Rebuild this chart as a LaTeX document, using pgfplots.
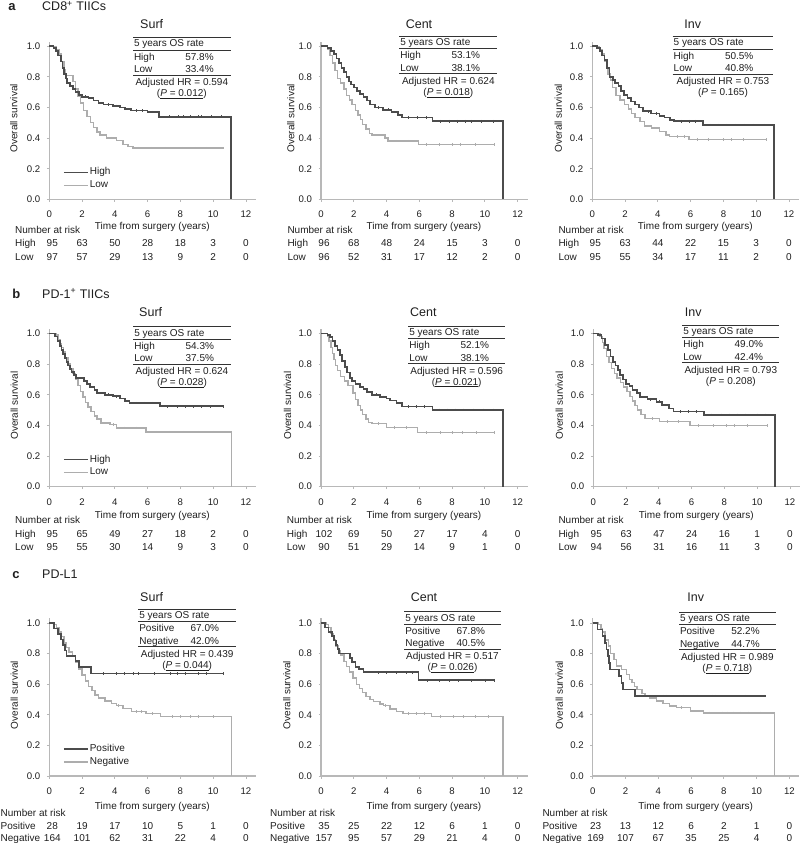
\documentclass[border=0pt]{standalone}
\usepackage{fontspec}
\setmainfont{Liberation Sans}
\usepackage{pgfplots}
\pgfplotsset{compat=1.18}
\definecolor{dk}{gray}{0.30}
\definecolor{lt}{gray}{0.68}
\definecolor{axc}{gray}{0.72}
\definecolor{tx}{gray}{0.12}
\pgfplotsset{
 km/.style={scale only axis, width=206.5pt, height=157.6pt, xmin=0, xmax=12.6, ymin=0, ymax=1.03, anchor=south west,
  axis x line=bottom, axis y line=left, axis line style={-, draw=axc, line width=1.1pt},
  xtick={0,2,4,6,8,10,12}, ytick={0,0.2,0.4,0.6,0.8,1.0},
  major tick length=2.5pt, tick align=outside, tick style={draw=axc, line width=0.8pt},
  yticklabel style={/pgf/number format/fixed, /pgf/number format/fixed zerofill, /pgf/number format/precision=1, xshift=-3pt},
  xticklabel style={anchor=base, yshift=-16pt},
  /pgf/number format/assume math mode=true,
  tick label style={font=\fontsize{9.6}{11}\selectfont, text=tx},
  clip=false},
 kmleg/.style={legend style={draw=none, fill=none, inner sep=0pt, font=\fontsize{10}{12}\selectfont, text=tx,
  at={(axis description cs:0.066,0.13)}, anchor=west, row sep=1.3pt, nodes={inner sep=1pt, text height=7.3pt, text depth=2.2pt}},
  legend cell align=left},
 hi/.style={const plot, no marks, draw=dk, line width=1.7pt},
 lo/.style={const plot, no marks, draw=lt, line width=1.4pt},
 censhi/.style={only marks, mark=|, mark size=1.3pt, draw=dk, mark options={line width=0.6pt, draw=dk}},
 censlo/.style={only marks, mark=|, mark size=1.3pt, draw=lt, mark options={line width=0.6pt, draw=lt}},
}
\tikzset{tt/.style={inner sep=0pt, text=tx, font=\fontsize{10}{12}\selectfont},
 tbl/.style={draw=black!80, line width=0.9pt}}
\newcommand{\ostab}[9]{%
 \draw[tbl] (#1,#3) -- (#2,#3);
 \node[anchor=base west] at (#1+0.8,#3+9.3) {5 years OS rate};
 \draw[tbl] (#1,#3+12.4) -- (#2,#3+12.4);
 \node[anchor=base west] at (#1+0.8,#3+22.5) {#4};
 \node[anchor=base] at (#1+66.5,#3+22.5) {#5};
 \node[anchor=base west] at (#1+0.8,#3+35) {#6};
 \node[anchor=base] at (#1+66.5,#3+35) {#7};
 \draw[tbl] (#1,#3+37.3) -- (#2,#3+37.3);
 \node[anchor=base] at ({(#1+#2)/2},#3+48) {Adjusted HR = #8};
 \node[anchor=base] at ({(#1+#2)/2},#3+59) {#9};}
\newcommand{\riskrow}[5]{%
 \node[anchor=base west] at (#1,#3) {#4};
 \foreach \n [count=\i from 0] in {#5} {\node[anchor=base] at ({#2+32.78*\i+3*(\i==0)},#3) {\n};}}
\newcommand{\paneltext}[6]{% x0, y0, ylabel x, title x, title base, title
 \node[rotate=90] at (#3,#2-81) {Overall survival};
 \node[anchor=base, font=\fontsize{12.5}{14}\selectfont] at (#4,#5) {#6};
 }
\begin{document}
\begin{tikzpicture}[x=1pt,y=-1pt]
\path[use as bounding box] (0,0) rectangle (800,843);
% ===================== Row a =====================
\begin{axis}[km, kmleg, at={(49.3pt,-199.3pt)}, legend image code/.code={\draw[#1] (0pt,0pt) -- (24pt,0pt);}]
\addlegendimage{hi}\addlegendentry{High}
\addlegendimage{lo}\addlegendentry{Low}
\addplot[lo, forget plot] coordinates {(0,1)(0.4,0.98)(0.6,0.95)(0.75,0.90)(0.9,0.85)(1.0,0.81)(1.45,0.77)(1.6,0.72)(1.75,0.67)(1.9,0.63)(2.1,0.58)(2.3,0.54)(2.5,0.50)(2.7,0.47)(2.9,0.44)(3.1,0.42)(3.5,0.40)(4.1,0.385)(4.5,0.36)(4.8,0.345)(5.1,0.334)(10.6,0.334)};
\addplot[censlo, forget plot] coordinates {(3.8,0.40)(5.4,0.334)(6.2,0.334)(7.1,0.334)(8.1,0.334)(8.9,0.334)(9.6,0.334)(10.6,0.334)};
\addplot[hi, forget plot] coordinates {(0,1)(0.25,0.99)(0.4,0.97)(0.55,0.94)(0.7,0.90)(0.8,0.86)(0.9,0.82)(1.0,0.79)(1.1,0.76)(1.25,0.74)(1.45,0.72)(1.6,0.70)(1.8,0.68)(2.0,0.67)(2.4,0.66)(2.7,0.645)(3.0,0.63)(3.3,0.62)(3.9,0.61)(4.3,0.60)(4.6,0.59)(5.0,0.58)(6.0,0.57)(6.7,0.54)(11.1,0)};
\addplot[censhi, forget plot] coordinates {(2.2,0.67)(3.6,0.62)(4.1,0.61)(5.3,0.58)(5.7,0.58)(6.3,0.57)(7.3,0.54)(7.9,0.54)(8.2,0.54)(8.6,0.54)(9.1,0.54)(9.3,0.54)(9.9,0.54)(10.5,0.54)};
\end{axis}
\begin{axis}[km, at={(321pt,-199.3pt)}]
\addplot[lo] coordinates {(0,1)(0.4,0.98)(0.55,0.94)(0.7,0.89)(0.85,0.84)(1.0,0.79)(1.2,0.76)(1.4,0.72)(1.55,0.68)(1.75,0.65)(1.9,0.62)(2.1,0.58)(2.25,0.55)(2.4,0.52)(2.55,0.49)(2.75,0.46)(2.95,0.43)(3.1,0.42)(3.9,0.40)(4.1,0.38)(5.95,0.36)(10.6,0.36)};
\addplot[censlo] coordinates {(4.6,0.38)(5.3,0.38)(6.4,0.36)(7.2,0.36)(8.0,0.36)(8.5,0.36)(9.4,0.36)(10.6,0.36)};
\addplot[hi] coordinates {(0,1)(0.4,0.99)(0.6,0.97)(0.8,0.95)(0.95,0.92)(1.1,0.89)(1.25,0.86)(1.4,0.83)(1.55,0.80)(1.7,0.77)(1.85,0.75)(2.0,0.73)(2.2,0.71)(2.4,0.69)(2.6,0.67)(2.8,0.645)(3.0,0.62)(3.3,0.60)(3.8,0.585)(4.3,0.57)(4.7,0.55)(4.95,0.535)(6.8,0.51)(11.1,0)};
\addplot[censhi] coordinates {(3.5,0.60)(4.1,0.585)(5.3,0.535)(5.9,0.535)(6.4,0.535)(7.3,0.51)(7.8,0.51)(8.3,0.51)(8.8,0.51)(9.2,0.51)(9.8,0.51)(10.5,0.51)};
\end{axis}
\begin{axis}[km, at={(592.3pt,-199.3pt)}]
\addplot[lo] coordinates {(0,1)(0.45,0.98)(0.6,0.95)(0.75,0.90)(0.85,0.86)(0.95,0.82)(1.1,0.78)(1.25,0.73)(1.45,0.68)(1.7,0.65)(1.95,0.62)(2.2,0.59)(2.4,0.56)(2.6,0.535)(2.9,0.51)(3.2,0.48)(3.6,0.465)(4.1,0.445)(4.5,0.42)(4.7,0.41)(5.9,0.39)(10.6,0.39)};
\addplot[censlo] coordinates {(3.8,0.465)(5.2,0.41)(5.6,0.41)(6.4,0.39)(7.1,0.39)(8.0,0.39)(8.5,0.39)(9.2,0.39)(10.6,0.39)};
\addplot[hi] coordinates {(0,1)(0.3,0.99)(0.47,0.97)(0.6,0.94)(0.75,0.91)(0.9,0.86)(1.05,0.80)(1.25,0.78)(1.4,0.76)(1.6,0.74)(1.75,0.71)(1.95,0.68)(2.15,0.66)(2.35,0.64)(2.6,0.62)(2.85,0.60)(3.1,0.575)(3.6,0.56)(4.1,0.545)(4.4,0.535)(4.75,0.52)(5.0,0.51)(6.75,0.485)(11.1,0)};
\addplot[censhi] coordinates {(3.4,0.575)(3.9,0.56)(5.4,0.51)(5.9,0.51)(6.3,0.51)(7.2,0.485)(7.7,0.485)(8.2,0.485)(8.7,0.485)(9.3,0.485)(9.8,0.485)(10.5,0.485)};
\end{axis}
% ===================== Row b =====================
\begin{axis}[km, kmleg, at={(49.3pt,-486.5pt)}, legend image code/.code={\draw[#1] (0pt,0pt) -- (24pt,0pt);}]
\addlegendimage{hi}\addlegendentry{High}
\addlegendimage{lo}\addlegendentry{Low}
\addplot[lo, forget plot] coordinates {(0,1)(0.4,0.99)(0.55,0.96)(0.65,0.935)(0.75,0.91)(0.85,0.88)(1.0,0.84)(1.15,0.80)(1.3,0.77)(1.45,0.74)(1.6,0.70)(1.75,0.66)(1.9,0.62)(2.05,0.585)(2.2,0.55)(2.35,0.52)(2.55,0.49)(2.75,0.46)(2.9,0.44)(3.15,0.415)(3.7,0.405)(4.1,0.383)(5.9,0.355)(11.1,0)};
\addplot[censlo, forget plot] coordinates {(3.9,0.405)(4.6,0.383)(5.3,0.383)(6.5,0.355)(7.3,0.355)(8.2,0.355)(9.1,0.355)(10.0,0.355)};
\addplot[hi, forget plot] coordinates {(0,1)(0.35,0.98)(0.5,0.95)(0.65,0.92)(0.75,0.89)(0.85,0.865)(0.95,0.84)(1.05,0.815)(1.15,0.79)(1.25,0.77)(1.35,0.75)(1.5,0.73)(1.65,0.71)(2.1,0.69)(2.3,0.67)(2.5,0.65)(2.75,0.63)(2.9,0.61)(3.4,0.60)(3.9,0.59)(4.3,0.575)(4.6,0.56)(4.9,0.545)(6.75,0.524)(10.6,0.524)};
\addplot[censhi, forget plot] coordinates {(2.2,0.69)(3.6,0.60)(4.1,0.59)(5.3,0.545)(5.8,0.545)(6.3,0.545)(7.2,0.524)(7.8,0.524)(8.3,0.524)(8.8,0.524)(9.3,0.524)(9.8,0.524)(10.6,0.524)};
\end{axis}
\begin{axis}[km, at={(321pt,-486.5pt)}]
\addplot[lo] coordinates {(0,1)(0.4,0.98)(0.5,0.95)(0.6,0.91)(0.7,0.87)(0.8,0.83)(0.9,0.79)(1.0,0.76)(1.2,0.72)(1.45,0.69)(1.65,0.66)(1.95,0.61)(2.1,0.57)(2.25,0.53)(2.4,0.50)(2.55,0.47)(2.75,0.44)(2.9,0.42)(3.1,0.41)(4.0,0.387)(5.9,0.354)(10.6,0.354)};
\addplot[censlo] coordinates {(3.5,0.41)(4.5,0.387)(5.2,0.387)(6.4,0.354)(7.3,0.354)(8.0,0.354)(8.6,0.354)(9.5,0.354)(10.6,0.354)};
\addplot[hi] coordinates {(0,1)(0.4,0.99)(0.55,0.975)(0.7,0.95)(0.85,0.92)(1.0,0.89)(1.15,0.86)(1.3,0.82)(1.45,0.78)(1.6,0.745)(1.75,0.71)(1.9,0.69)(2.1,0.67)(2.4,0.65)(2.6,0.635)(2.8,0.617)(3.1,0.60)(3.6,0.585)(4.0,0.575)(4.2,0.562)(4.6,0.545)(4.95,0.523)(6.8,0.50)(11.1,0)};
\addplot[censhi] coordinates {(3.4,0.60)(3.8,0.585)(5.3,0.523)(5.8,0.523)(6.3,0.523)(7.2,0.50)(7.7,0.50)(8.2,0.50)(8.7,0.50)(9.3,0.50)(9.9,0.50)(10.5,0.50)};
\end{axis}
\begin{axis}[km, at={(593.3pt,-486.5pt)}]
\addplot[lo] coordinates {(0,1)(0.4,0.98)(0.55,0.94)(0.65,0.90)(0.8,0.85)(0.95,0.81)(1.1,0.77)(1.3,0.74)(1.45,0.71)(1.65,0.68)(1.85,0.65)(2.05,0.62)(2.25,0.59)(2.4,0.56)(2.55,0.53)(2.7,0.50)(2.9,0.47)(3.15,0.446)(4.05,0.424)(5.9,0.398)(10.6,0.398)};
\addplot[censlo] coordinates {(3.6,0.446)(4.5,0.424)(5.2,0.424)(6.4,0.398)(7.3,0.398)(8.1,0.398)(8.6,0.398)(9.4,0.398)(10.6,0.398)};
\addplot[hi] coordinates {(0,1)(0.3,0.99)(0.5,0.967)(0.7,0.924)(0.9,0.89)(1.05,0.85)(1.2,0.815)(1.35,0.79)(1.5,0.76)(1.65,0.73)(1.8,0.70)(2.0,0.67)(2.2,0.655)(2.4,0.63)(2.65,0.61)(2.85,0.587)(3.3,0.57)(3.85,0.554)(4.2,0.533)(4.6,0.51)(4.9,0.49)(6.75,0.467)(11.1,0)};
\addplot[censhi] coordinates {(3.5,0.57)(4.0,0.554)(5.3,0.49)(5.8,0.49)(6.3,0.49)(7.2,0.467)(7.8,0.467)(8.3,0.467)(8.8,0.467)(9.3,0.467)(10.0,0.467)(10.5,0.467)};
\end{axis}
% ===================== Row c =====================
\begin{axis}[km, kmleg, at={(49.3pt,-776pt)}, legend image code/.code={\draw[#1] (0pt,0pt) -- (24pt,0pt);}]
\addlegendimage{hi}\addlegendentry{Positive}
\addlegendimage{lo}\addlegendentry{Negative}
\addplot[lo, forget plot] coordinates {(0,1)(0.3,0.99)(0.45,0.97)(0.6,0.94)(0.75,0.91)(0.9,0.87)(1.05,0.84)(1.2,0.81)(1.4,0.78)(1.6,0.74)(1.8,0.70)(2.0,0.66)(2.2,0.62)(2.4,0.585)(2.6,0.56)(2.8,0.53)(3.0,0.51)(3.4,0.49)(3.8,0.475)(4.1,0.46)(4.5,0.44)(5.0,0.42)(5.9,0.41)(6.8,0.39)(11.1,0)};
\addplot[censlo, forget plot] coordinates {(4.2,0.46)(5.3,0.42)(5.6,0.42)(6.3,0.41)(7.5,0.39)(8.0,0.39)(8.6,0.39)(9.1,0.39)(10.0,0.39)};
\addplot[hi, forget plot] coordinates {(0,1)(0.3,0.964)(0.55,0.929)(0.7,0.893)(0.85,0.857)(0.95,0.821)(1.05,0.786)(1.6,0.75)(1.8,0.714)(2.55,0.67)(10.6,0.67)};
\addplot[censhi, forget plot] coordinates {(3.3,0.67)(4.1,0.67)(4.6,0.67)(5.1,0.67)(5.4,0.67)(6.4,0.67)(7.4,0.67)(7.8,0.67)(8.3,0.67)(9.1,0.67)(9.6,0.67)(10.6,0.67)};
\end{axis}
\begin{axis}[km, at={(321pt,-776pt)}]
\addplot[lo] coordinates {(0,1)(0.3,0.99)(0.45,0.97)(0.6,0.93)(0.75,0.89)(0.9,0.85)(1.05,0.82)(1.2,0.79)(1.4,0.75)(1.55,0.715)(1.75,0.68)(1.95,0.64)(2.15,0.60)(2.35,0.57)(2.55,0.545)(2.75,0.52)(3.0,0.50)(3.2,0.485)(3.6,0.47)(3.8,0.459)(4.2,0.437)(4.6,0.42)(5.0,0.409)(6.75,0.39)(11.1,0)};
\addplot[censlo] coordinates {(3.9,0.459)(5.3,0.409)(5.8,0.409)(6.3,0.409)(7.3,0.39)(8.1,0.39)(8.7,0.39)(9.4,0.39)(10.2,0.39)};
\addplot[hi] coordinates {(0,1)(0.25,0.971)(0.45,0.943)(0.65,0.914)(0.8,0.886)(0.9,0.857)(1.0,0.829)(1.1,0.80)(1.75,0.771)(1.9,0.743)(2.1,0.714)(2.3,0.70)(2.6,0.678)(5.95,0.626)(10.6,0.626)};
\addplot[censhi] coordinates {(3.5,0.678)(4.0,0.678)(4.6,0.678)(5.2,0.678)(5.6,0.678)(6.5,0.626)(7.2,0.626)(7.8,0.626)(8.4,0.626)(9.2,0.626)(10.0,0.626)(10.6,0.626)};
\end{axis}
\begin{axis}[km, at={(592.7pt,-776pt)}]
\addplot[lo] coordinates {(0,1)(0.35,0.99)(0.5,0.96)(0.6,0.94)(0.75,0.89)(0.95,0.85)(1.1,0.80)(1.3,0.76)(1.45,0.72)(1.75,0.696)(2.05,0.663)(2.25,0.63)(2.4,0.61)(2.55,0.585)(2.7,0.565)(3.0,0.54)(3.2,0.525)(3.5,0.51)(3.9,0.489)(4.3,0.474)(4.7,0.457)(5.1,0.446)(5.95,0.424)(6.75,0.413)(11.1,0)};
\addplot[censlo] coordinates {(4.9,0.457)(5.4,0.446)(7.1,0.413)(7.9,0.413)(8.2,0.413)(8.6,0.413)(9.0,0.413)(9.5,0.413)(10.2,0.413)};
\addplot[hi] coordinates {(0,1)(0.3,0.957)(0.6,0.913)(0.75,0.870)(0.85,0.826)(0.92,0.783)(0.98,0.739)(1.05,0.696)(1.6,0.652)(1.75,0.609)(1.85,0.565)(2.6,0.522)(10.55,0.522)};
\addplot[censhi] coordinates {(4.3,0.522)(4.5,0.522)(5.3,0.522)(5.5,0.522)(6.4,0.522)(7.3,0.522)(7.5,0.522)(9.3,0.522)(10.5,0.522)};
\end{axis}
% ===================== Annotations =====================
\begin{scope}[every node/.style={tt}]
% headings
\node[anchor=base west, font=\fontsize{13}{15}\selectfont\bfseries] at (8.3,10.7) {a};
\node[anchor=base west, font=\fontsize{12.5}{15}\selectfont] at (42,10.7) {CD8\textsuperscript{+} TIICs};
\node[anchor=base west, font=\fontsize{13}{15}\selectfont\bfseries] at (12.3,298.3) {b};
\node[anchor=base west, font=\fontsize{12.5}{15}\selectfont] at (42,298.3) {PD-1\textsuperscript{+} TIICs};
\node[anchor=base west, font=\fontsize{13}{15}\selectfont\bfseries] at (12.3,578.3) {c};
\node[anchor=base west, font=\fontsize{12.5}{15}\selectfont] at (42,578.3) {PD-L1};
% titles and y labels
\paneltext{49.3}{199.3}{13.8}{151.7}{28.3}{Surf}
\paneltext{321}{199.3}{290.8}{419}{28.3}{Cent}
\paneltext{592.3}{199.3}{558.2}{692.7}{28.3}{Inv}
\paneltext{49.3}{486.5}{14.2}{150.7}{316.7}{Surf}
\paneltext{321}{486.5}{287.5}{423.3}{316.7}{Cent}
\paneltext{593.3}{486.5}{559.2}{693.3}{316.7}{Inv}
\paneltext{49.3}{776}{14.2}{151.7}{601.7}{Surf}
\paneltext{321}{776}{286.7}{424}{601.7}{Cent}
\paneltext{592.7}{776}{559.2}{695.7}{601.7}{Inv}
% x labels
\foreach \xx/\yy in {49.3/229.5,321/229.5,592.3/229.5,49.3/518,321/518,593.3/518,49.3/809.5,321/809.5,592.7/809.5}
  {\node[anchor=base] at (\xx+103,\yy) {Time from surgery (years)};}
% OS tables
\ostab{133}{230.7}{37.7}{High}{57.8\%}{Low}{33.4\%}{0.594}{(\underline{\textit{P}~=~0.012})}
\ostab{399.3}{497.3}{36.5}{High}{53.1\%}{Low}{38.1\%}{0.624}{(\underline{\textit{P}~=~0.018})}
\ostab{672.7}{773.3}{36.7}{High}{50.5\%}{Low}{40.8\%}{0.753}{(\textit{P}~=~0.165)}
\ostab{133.3}{230.7}{326.7}{High}{54.3\%}{Low}{37.5\%}{0.624}{(\underline{\textit{P}~=~0.028})}
\ostab{408.3}{505}{326}{High}{52.1\%}{Low}{38.1\%}{0.596}{(\underline{\textit{P}~=~0.021})}
\ostab{682.3}{779.3}{325}{High}{49.0\%}{Low}{42.4\%}{0.793}{(\textit{P}~=~0.208)}
\ostab{138.3}{236}{609.3}{Positive}{67.0\%}{Negative}{42.0\%}{0.439}{(\underline{\textit{P}~=~0.044})}
\ostab{404.3}{500.7}{611.7}{Positive}{67.8\%}{Negative}{40.5\%}{0.517}{(\underline{\textit{P}~=~0.026})}
\ostab{679}{775.7}{612.3}{Positive}{52.2\%}{Negative}{44.7\%}{0.989}{(\underline{\textit{P}~=~0.718})}
% number at risk
\node[anchor=base west] at (15,233.5) {Number at risk};
\riskrow{15}{49.3}{246.7}{High}{95,63,50,28,18,3,0}
\riskrow{15}{49.3}{260}{Low}{97,57,29,13,9,2,0}
\node[anchor=base west] at (287.3,233.5) {Number at risk};
\riskrow{287.3}{321}{246.7}{High}{96,68,48,24,15,3,0}
\riskrow{287.3}{321}{260}{Low}{96,52,31,17,12,2,0}
\node[anchor=base west] at (558.3,233.5) {Number at risk};
\riskrow{558.3}{592.3}{246.7}{High}{95,63,44,22,15,3,0}
\riskrow{558.3}{592.3}{260}{Low}{95,55,34,17,11,2,0}
\node[anchor=base west] at (15,523.5) {Number at risk};
\riskrow{15}{49.3}{537.3}{High}{95,65,49,27,18,2,0}
\riskrow{15}{49.3}{550.7}{Low}{95,55,30,14,9,3,0}
\node[anchor=base west] at (286.7,523.5) {Number at risk};
\riskrow{286.7}{321}{537.3}{High}{102,69,50,27,17,4,0}
\riskrow{286.7}{321}{550.7}{Low}{90,51,29,14,9,1,0}
\node[anchor=base west] at (558.3,523.5) {Number at risk};
\riskrow{558.3}{593.3}{537.3}{High}{95,63,47,24,16,1,0}
\riskrow{558.3}{593.3}{550.7}{Low}{94,56,31,16,11,3,0}
\node[anchor=base west] at (0.5,816) {Number at risk};
\riskrow{0.5}{49.3}{829}{Positive}{28,19,17,10,5,1,0}
\riskrow{0.5}{49.3}{841}{Negative}{164,101,62,31,22,4,0}
\node[anchor=base west] at (270,816) {Number at risk};
\riskrow{270}{321}{829}{Positive}{35,25,22,12,6,1,0}
\riskrow{270}{321}{841}{Negative}{157,95,57,29,21,4,0}
\node[anchor=base west] at (542.3,816) {Number at risk};
\riskrow{542.3}{592.7}{829}{Positive}{23,13,12,6,2,1,0}
\riskrow{542.3}{592.7}{841}{Negative}{169,107,67,35,25,4,0}
\end{scope}
\end{tikzpicture}
\end{document}
